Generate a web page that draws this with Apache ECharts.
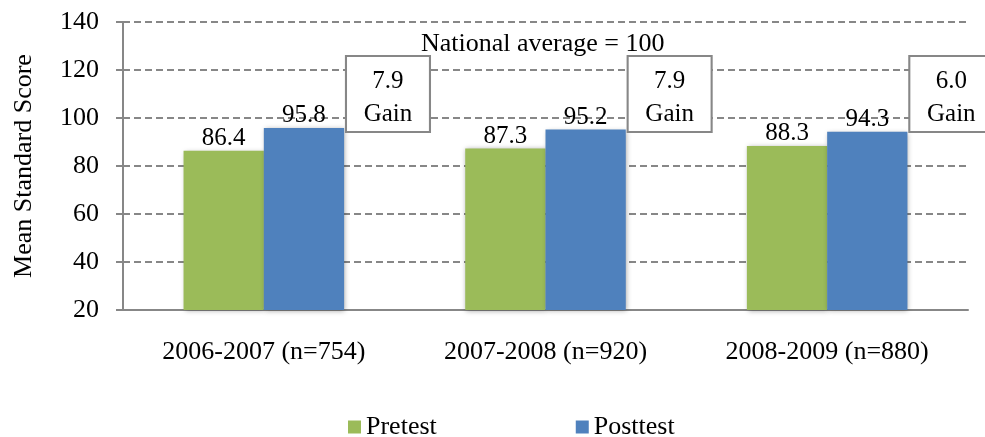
<!DOCTYPE html>
<html>
<head>
<meta charset="utf-8">
<script src="https://cdn.jsdelivr.net/npm/echarts@6/dist/echarts.min.js"></script>
<style>
  html, body { margin: 0; padding: 0; background: #fff; }
  #chart { width: 985px; height: 437px; }
</style>
</head>
<body>
<div id="chart"></div>
<script>
// data
const categories = ['2006-2007 (n=754)', '2007-2008 (n=920)', '2008-2009 (n=880)']
const pretest = [86.4, 87.3, 88.3]
const posttest = [95.8, 95.2, 94.3]
const gains = ['7.9', '7.9', '6.0']
const yTicks = [20, 40, 60, 80, 100, 120, 140]

const font = '"Liberation Serif", "Times New Roman", serif'
const chart = echarts.init(document.getElementById('chart'))

// 柱子的公共标签
const barLabel = {
  show: true,
  position: 'top',
  distance: 0,
  fontFamily: font,
  fontSize: 25,
  color: '#000',
  formatter: (p) => p.value.toFixed(1)
}

const option = {
  backgroundColor: '#fff',
  animation: false,
  textStyle: { fontFamily: font, color: '#000' },
  title: {
    text: 'National average = 100',
    left: 416,
    top: 26,
    textStyle: { fontFamily: font, fontSize: 26, fontWeight: 'normal', color: '#000' }
  },
  legend: {
    data: ['Pretest', 'Posttest'],
    left: 343,
    top: 409,
    itemWidth: 13,
    itemHeight: 13,
    itemGap: 139,
    icon: 'rect',
    textStyle: { fontFamily: font, fontSize: 26, color: '#000' }
  },
  grid: { left: 123, right: 17, top: 22, bottom: 127 },
  xAxis: {
    type: 'category',
    data: categories,
    axisLine: { lineStyle: { color: '#878787', width: 2 } },
    axisTick: { length: 7, lineStyle: { color: '#878787', width: 2 } },
    axisLabel: { fontFamily: font, fontSize: 26, color: '#000', margin: 29 }
  },
  yAxis: {
    type: 'value',
    min: yTicks[0],
    max: yTicks[yTicks.length - 1],
    interval: 20,
    name: 'Mean Standard Score',
    nameLocation: 'middle',
    nameGap: 86,
    nameTextStyle: { fontFamily: font, fontSize: 26, color: '#000' },
    axisLine: { show: true, lineStyle: { color: '#878787', width: 2 } },
    axisTick: { show: true, length: 7, lineStyle: { color: '#878787', width: 2 } },
    axisLabel: { fontFamily: font, fontSize: 26, color: '#000', margin: 24 },
    splitLine: { lineStyle: { color: '#878787', width: 2, type: [7, 4] } }
  },
  series: [
    {
      name: 'Pretest',
      type: 'bar',
      data: pretest,
      barGap: '0%',
      barCategoryGap: '43%',
      itemStyle: {
        color: '#9BBB59',
        shadowColor: 'rgba(0,0,0,0.35)',
        shadowBlur: 5,
        shadowOffsetX: 1,
        shadowOffsetY: 1
      },
      label: barLabel
    },
    {
      name: 'Posttest',
      type: 'bar',
      data: posttest,
      itemStyle: {
        color: '#4F81BD',
        shadowColor: 'rgba(0,0,0,0.35)',
        shadowBlur: 5,
        shadowOffsetX: 1,
        shadowOffsetY: 1
      },
      label: barLabel,
      // Gain 方框
      markPoint: {
        symbol: 'rect',
        symbolSize: [84, 76],
        symbolOffset: [84, 0],
        silent: true,
        itemStyle: { color: '#fff', borderColor: '#878787', borderWidth: 2 },
        label: {
          show: true,
          position: 'inside',
          offset: [0, 4],
          fontFamily: font,
          fontSize: 25,
          lineHeight: 33,
          color: '#000',
          formatter: (p) => p.value + '\nGain'
        },
        data: gains.map((g, i) => ({ coord: [i, 110], value: g }))
      }
    }
  ]
}
chart.setOption(option)
</script>
</body>
</html>
